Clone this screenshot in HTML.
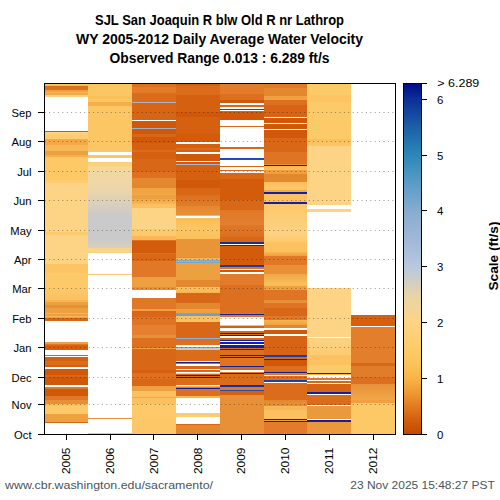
<!DOCTYPE html><html><head><meta charset="utf-8"><style>html,body{margin:0;padding:0;background:#fff;}svg{display:block;}text{font-family:"Liberation Sans",sans-serif;}</style></head><body>
<svg width="500" height="500" viewBox="0 0 500 500">
<g font-weight="bold" font-size="14" text-anchor="middle" fill="#000">
<text x="219.5" y="25" textLength="249" lengthAdjust="spacingAndGlyphs">SJL San Joaquin R blw Old R nr Lathrop</text>
<text x="219.5" y="44" textLength="287" lengthAdjust="spacingAndGlyphs">WY 2005-2012 Daily Average Water Velocity</text>
<text x="219.5" y="62.5" textLength="220" lengthAdjust="spacingAndGlyphs">Observed Range 0.013 : 6.289 ft/s</text>
</g>
<defs><linearGradient id="c0" gradientUnits="userSpaceOnUse" x1="0" y1="84.0" x2="0" y2="434.0"><stop offset="0.00000" stop-color="#fdc866"/><stop offset="0.00286" stop-color="#fdc866"/><stop offset="0.00286" stop-color="#f8b850"/><stop offset="0.00714" stop-color="#f8b850"/><stop offset="0.00714" stop-color="#d87020"/><stop offset="0.01714" stop-color="#d87020"/><stop offset="0.01714" stop-color="#f0a040"/><stop offset="0.02143" stop-color="#f0a040"/><stop offset="0.02143" stop-color="#f8b652"/><stop offset="0.02714" stop-color="#f8b652"/><stop offset="0.02714" stop-color="#f0a848"/><stop offset="0.03143" stop-color="#f0a848"/><stop offset="0.03143" stop-color="#fdd284"/><stop offset="0.03714" stop-color="#fdd284"/><stop offset="0.03714" stop-color="#ffffff"/><stop offset="0.13429" stop-color="#ffffff"/><stop offset="0.13429" stop-color="#d05808"/><stop offset="0.13714" stop-color="#d05808"/><stop offset="0.13714" stop-color="#fdd284"/><stop offset="0.14286" stop-color="#fdd284"/><stop offset="0.14286" stop-color="#fdcc70"/><stop offset="0.15857" stop-color="#fdcc70"/><stop offset="0.15857" stop-color="#f4a848"/><stop offset="0.17429" stop-color="#f4a848"/><stop offset="0.17429" stop-color="#f8b858"/><stop offset="0.19143" stop-color="#f8b858"/><stop offset="0.19143" stop-color="#eca040"/><stop offset="0.20286" stop-color="#eca040"/><stop offset="0.20286" stop-color="#f4b050"/><stop offset="0.20857" stop-color="#f4b050"/><stop offset="0.20857" stop-color="#fdc866"/><stop offset="0.27429" stop-color="#fdc866"/><stop offset="0.27429" stop-color="#fdcc70"/><stop offset="0.28286" stop-color="#fdcc70"/><stop offset="0.28286" stop-color="#fdd486"/><stop offset="0.42286" stop-color="#fdd486"/><stop offset="0.42286" stop-color="#fdca6c"/><stop offset="0.43143" stop-color="#fdca6c"/><stop offset="0.43143" stop-color="#fdd486"/><stop offset="0.51429" stop-color="#fdd486"/><stop offset="0.51429" stop-color="#fcc462"/><stop offset="0.54000" stop-color="#fcc462"/><stop offset="0.54000" stop-color="#fdca6a"/><stop offset="0.57714" stop-color="#fdca6a"/><stop offset="0.57714" stop-color="#fdca6a"/><stop offset="0.61714" stop-color="#fcc060"/><stop offset="0.61714" stop-color="#f8b652"/><stop offset="0.62143" stop-color="#f8b652"/><stop offset="0.62143" stop-color="#eca040"/><stop offset="0.63143" stop-color="#eca040"/><stop offset="0.63143" stop-color="#e89038"/><stop offset="0.64000" stop-color="#e89038"/><stop offset="0.64000" stop-color="#eca040"/><stop offset="0.65429" stop-color="#eca040"/><stop offset="0.65429" stop-color="#f8b652"/><stop offset="0.65857" stop-color="#f8b652"/><stop offset="0.65857" stop-color="#eca040"/><stop offset="0.66143" stop-color="#eca040"/><stop offset="0.66143" stop-color="#f8b858"/><stop offset="0.66714" stop-color="#f8b858"/><stop offset="0.66714" stop-color="#f0a040"/><stop offset="0.67000" stop-color="#f0a040"/><stop offset="0.67000" stop-color="#d86818"/><stop offset="0.67714" stop-color="#d86818"/><stop offset="0.67714" stop-color="#ffffff"/><stop offset="0.73714" stop-color="#ffffff"/><stop offset="0.73714" stop-color="#f0a040"/><stop offset="0.74143" stop-color="#f0a040"/><stop offset="0.74143" stop-color="#e07828"/><stop offset="0.74571" stop-color="#e07828"/><stop offset="0.74571" stop-color="#d46010"/><stop offset="0.76000" stop-color="#d46010"/><stop offset="0.76000" stop-color="#ffffff"/><stop offset="0.77429" stop-color="#ffffff"/><stop offset="0.77429" stop-color="#d86010"/><stop offset="0.77714" stop-color="#d86010"/><stop offset="0.77714" stop-color="#ffffff"/><stop offset="0.78000" stop-color="#ffffff"/><stop offset="0.78000" stop-color="#d46010"/><stop offset="0.79143" stop-color="#d46010"/><stop offset="0.79143" stop-color="#dc6c18"/><stop offset="0.80286" stop-color="#dc6c18"/><stop offset="0.80286" stop-color="#d46010"/><stop offset="0.81000" stop-color="#d46010"/><stop offset="0.81000" stop-color="#ffffff"/><stop offset="0.81429" stop-color="#ffffff"/><stop offset="0.81429" stop-color="#d05808"/><stop offset="0.83143" stop-color="#d05808"/><stop offset="0.83143" stop-color="#d86818"/><stop offset="0.83714" stop-color="#d86818"/><stop offset="0.83714" stop-color="#d05808"/><stop offset="0.86000" stop-color="#d05808"/><stop offset="0.86000" stop-color="#ffffff"/><stop offset="0.86571" stop-color="#ffffff"/><stop offset="0.86571" stop-color="#e07828"/><stop offset="0.87143" stop-color="#e07828"/><stop offset="0.87143" stop-color="#d05808"/><stop offset="0.89143" stop-color="#d05808"/><stop offset="0.89143" stop-color="#e07828"/><stop offset="0.90286" stop-color="#e07828"/><stop offset="0.90286" stop-color="#e89038"/><stop offset="0.91429" stop-color="#e89038"/><stop offset="0.91429" stop-color="#fcc060"/><stop offset="0.92000" stop-color="#fcc060"/><stop offset="0.92000" stop-color="#fdca6a"/><stop offset="0.94286" stop-color="#fdca6a"/><stop offset="0.94286" stop-color="#f0a040"/><stop offset="0.95714" stop-color="#f0a040"/><stop offset="0.95714" stop-color="#eca040"/><stop offset="0.96429" stop-color="#eca040"/><stop offset="0.96429" stop-color="#d86818"/><stop offset="0.96857" stop-color="#d86818"/><stop offset="0.96857" stop-color="#ffffff"/><stop offset="1.00000" stop-color="#ffffff"/></linearGradient><linearGradient id="c1" gradientUnits="userSpaceOnUse" x1="0" y1="84.0" x2="0" y2="434.0"><stop offset="0.00000" stop-color="#fdc664"/><stop offset="0.03429" stop-color="#fdc664"/><stop offset="0.03429" stop-color="#fac05a"/><stop offset="0.04286" stop-color="#fac05a"/><stop offset="0.04286" stop-color="#fdc664"/><stop offset="0.05143" stop-color="#fdc664"/><stop offset="0.05143" stop-color="#f4b048"/><stop offset="0.06143" stop-color="#f4b048"/><stop offset="0.06143" stop-color="#fdc664"/><stop offset="0.19429" stop-color="#fdc664"/><stop offset="0.19429" stop-color="#ffffff"/><stop offset="0.20286" stop-color="#ffffff"/><stop offset="0.20286" stop-color="#fdc664"/><stop offset="0.21143" stop-color="#fdc664"/><stop offset="0.21143" stop-color="#ffffff"/><stop offset="0.22286" stop-color="#ffffff"/><stop offset="0.22286" stop-color="#fdd07a"/><stop offset="0.23429" stop-color="#fdd07a"/><stop offset="0.23429" stop-color="#f8d890"/><stop offset="0.24571" stop-color="#f8d890"/><stop offset="0.24571" stop-color="#f2d8a0"/><stop offset="0.30286" stop-color="#ecd6aa"/><stop offset="0.30286" stop-color="#ecd6aa"/><stop offset="0.37429" stop-color="#cccac8"/><stop offset="0.37429" stop-color="#cacaca"/><stop offset="0.44571" stop-color="#cacaca"/><stop offset="0.44571" stop-color="#cccac6"/><stop offset="0.46857" stop-color="#d8d0bc"/><stop offset="0.46857" stop-color="#f8d48c"/><stop offset="0.48000" stop-color="#f8d48c"/><stop offset="0.48000" stop-color="#fdd080"/><stop offset="0.48286" stop-color="#fdd080"/><stop offset="0.48286" stop-color="#ffffff"/><stop offset="0.54143" stop-color="#ffffff"/><stop offset="0.54143" stop-color="#fdc870"/><stop offset="0.54429" stop-color="#fdc870"/><stop offset="0.54429" stop-color="#ffffff"/><stop offset="0.95429" stop-color="#ffffff"/><stop offset="0.95429" stop-color="#e89038"/><stop offset="0.95714" stop-color="#e89038"/><stop offset="0.95714" stop-color="#ffffff"/><stop offset="0.99714" stop-color="#ffffff"/><stop offset="0.99714" stop-color="#fdc866"/><stop offset="1.00000" stop-color="#fdc866"/></linearGradient><linearGradient id="c2" gradientUnits="userSpaceOnUse" x1="0" y1="84.0" x2="0" y2="434.0"><stop offset="0.00000" stop-color="#e07020"/><stop offset="0.00857" stop-color="#e07020"/><stop offset="0.00857" stop-color="#e27c2a"/><stop offset="0.02571" stop-color="#e27c2a"/><stop offset="0.02571" stop-color="#da6c1c"/><stop offset="0.05143" stop-color="#da6c1c"/><stop offset="0.05143" stop-color="#a8b4c8"/><stop offset="0.05429" stop-color="#a8b4c8"/><stop offset="0.05429" stop-color="#d66616"/><stop offset="0.10286" stop-color="#d66616"/><stop offset="0.10286" stop-color="#ffffff"/><stop offset="0.10571" stop-color="#ffffff"/><stop offset="0.10571" stop-color="#d05808"/><stop offset="0.12571" stop-color="#d05808"/><stop offset="0.12571" stop-color="#a0b0c8"/><stop offset="0.12857" stop-color="#a0b0c8"/><stop offset="0.12857" stop-color="#d05808"/><stop offset="0.14286" stop-color="#d05808"/><stop offset="0.14286" stop-color="#d86818"/><stop offset="0.15143" stop-color="#d86818"/><stop offset="0.15143" stop-color="#d05808"/><stop offset="0.16857" stop-color="#d05808"/><stop offset="0.16857" stop-color="#d46010"/><stop offset="0.18857" stop-color="#d46010"/><stop offset="0.18857" stop-color="#dc6c18"/><stop offset="0.19571" stop-color="#dc6c18"/><stop offset="0.19571" stop-color="#d46010"/><stop offset="0.21429" stop-color="#d46010"/><stop offset="0.21429" stop-color="#d86818"/><stop offset="0.25143" stop-color="#d86818"/><stop offset="0.25143" stop-color="#e07020"/><stop offset="0.26857" stop-color="#e07020"/><stop offset="0.26857" stop-color="#e48830"/><stop offset="0.28857" stop-color="#e48830"/><stop offset="0.28857" stop-color="#e08830"/><stop offset="0.29714" stop-color="#e08830"/><stop offset="0.29714" stop-color="#f0a040"/><stop offset="0.31714" stop-color="#f4a848"/><stop offset="0.31714" stop-color="#eca040"/><stop offset="0.32857" stop-color="#eca040"/><stop offset="0.32857" stop-color="#f0a848"/><stop offset="0.34286" stop-color="#f8b652"/><stop offset="0.34286" stop-color="#fcc060"/><stop offset="0.35429" stop-color="#fcc060"/><stop offset="0.35429" stop-color="#fdd486"/><stop offset="0.41429" stop-color="#fdd486"/><stop offset="0.41429" stop-color="#fdcc70"/><stop offset="0.43429" stop-color="#fcc868"/><stop offset="0.43429" stop-color="#f8b858"/><stop offset="0.44429" stop-color="#f8b858"/><stop offset="0.44429" stop-color="#e07020"/><stop offset="0.44857" stop-color="#e07020"/><stop offset="0.44857" stop-color="#d25c0c"/><stop offset="0.48286" stop-color="#d25c0c"/><stop offset="0.48286" stop-color="#dc7020"/><stop offset="0.48571" stop-color="#dc7020"/><stop offset="0.48571" stop-color="#d86818"/><stop offset="0.50571" stop-color="#d86818"/><stop offset="0.50571" stop-color="#e07828"/><stop offset="0.55143" stop-color="#e07828"/><stop offset="0.55143" stop-color="#eea040"/><stop offset="0.58000" stop-color="#eea040"/><stop offset="0.58000" stop-color="#e89038"/><stop offset="0.58800" stop-color="#e89038"/><stop offset="0.58800" stop-color="#ffffff"/><stop offset="0.61143" stop-color="#ffffff"/><stop offset="0.61143" stop-color="#e07828"/><stop offset="0.64286" stop-color="#e07828"/><stop offset="0.64286" stop-color="#f0a040"/><stop offset="0.64857" stop-color="#f0a040"/><stop offset="0.64857" stop-color="#d86818"/><stop offset="0.66571" stop-color="#d86818"/><stop offset="0.66571" stop-color="#de7424"/><stop offset="0.68857" stop-color="#de7424"/><stop offset="0.68857" stop-color="#e48030"/><stop offset="0.71714" stop-color="#e48030"/><stop offset="0.71714" stop-color="#e89038"/><stop offset="0.72571" stop-color="#e89038"/><stop offset="0.72571" stop-color="#dc7020"/><stop offset="0.75429" stop-color="#dc7020"/><stop offset="0.75429" stop-color="#eca040"/><stop offset="0.75857" stop-color="#eca040"/><stop offset="0.75857" stop-color="#d86818"/><stop offset="0.80286" stop-color="#d86818"/><stop offset="0.80286" stop-color="#d86818"/><stop offset="0.81714" stop-color="#d86818"/><stop offset="0.81714" stop-color="#d46010"/><stop offset="0.82571" stop-color="#d46010"/><stop offset="0.82571" stop-color="#e07020"/><stop offset="0.84171" stop-color="#e07020"/><stop offset="0.84171" stop-color="#d86818"/><stop offset="0.86229" stop-color="#d86818"/><stop offset="0.86229" stop-color="#eca040"/><stop offset="0.87600" stop-color="#eca040"/><stop offset="0.87600" stop-color="#fcc060"/><stop offset="0.89314" stop-color="#fcc060"/><stop offset="0.89314" stop-color="#f0a848"/><stop offset="0.89829" stop-color="#f0a848"/><stop offset="0.89829" stop-color="#fcc060"/><stop offset="0.91371" stop-color="#fcc060"/><stop offset="0.91371" stop-color="#fdca6a"/><stop offset="1.00000" stop-color="#fdc666"/></linearGradient><linearGradient id="c3" gradientUnits="userSpaceOnUse" x1="0" y1="84.0" x2="0" y2="434.0"><stop offset="0.00000" stop-color="#d46010"/><stop offset="0.00571" stop-color="#d46010"/><stop offset="0.00571" stop-color="#da6c1c"/><stop offset="0.03143" stop-color="#da6c1c"/><stop offset="0.03143" stop-color="#d46010"/><stop offset="0.08000" stop-color="#d46010"/><stop offset="0.08000" stop-color="#d05808"/><stop offset="0.09429" stop-color="#d05808"/><stop offset="0.09429" stop-color="#d46010"/><stop offset="0.14000" stop-color="#d46010"/><stop offset="0.14000" stop-color="#d25c0c"/><stop offset="0.16714" stop-color="#d25c0c"/><stop offset="0.16714" stop-color="#ffffff"/><stop offset="0.17143" stop-color="#ffffff"/><stop offset="0.17143" stop-color="#d46010"/><stop offset="0.18286" stop-color="#d46010"/><stop offset="0.18286" stop-color="#dc6c18"/><stop offset="0.18857" stop-color="#dc6c18"/><stop offset="0.18857" stop-color="#d46010"/><stop offset="0.19571" stop-color="#d46010"/><stop offset="0.19571" stop-color="#ffffff"/><stop offset="0.20000" stop-color="#ffffff"/><stop offset="0.20000" stop-color="#d05808"/><stop offset="0.22000" stop-color="#d05808"/><stop offset="0.22000" stop-color="#ffffff"/><stop offset="0.22343" stop-color="#ffffff"/><stop offset="0.22343" stop-color="#d05808"/><stop offset="0.22800" stop-color="#d05808"/><stop offset="0.22800" stop-color="#a8b8d0"/><stop offset="0.23143" stop-color="#a8b8d0"/><stop offset="0.23143" stop-color="#d46010"/><stop offset="0.27429" stop-color="#d46010"/><stop offset="0.27429" stop-color="#d05808"/><stop offset="0.29714" stop-color="#d05808"/><stop offset="0.29714" stop-color="#d86818"/><stop offset="0.31714" stop-color="#d86818"/><stop offset="0.31714" stop-color="#dc7020"/><stop offset="0.34857" stop-color="#e27c28"/><stop offset="0.34857" stop-color="#e48830"/><stop offset="0.37429" stop-color="#e89038"/><stop offset="0.37429" stop-color="#f8b652"/><stop offset="0.37714" stop-color="#f8b652"/><stop offset="0.37714" stop-color="#ffffff"/><stop offset="0.38286" stop-color="#ffffff"/><stop offset="0.38286" stop-color="#fabe58"/><stop offset="0.41714" stop-color="#fdc664"/><stop offset="0.41714" stop-color="#fdc664"/><stop offset="0.44286" stop-color="#fac05a"/><stop offset="0.44286" stop-color="#ea9438"/><stop offset="0.49429" stop-color="#ea9438"/><stop offset="0.49429" stop-color="#78a8d0"/><stop offset="0.49714" stop-color="#78a8d0"/><stop offset="0.49714" stop-color="#f8b652"/><stop offset="0.50286" stop-color="#f8b652"/><stop offset="0.50286" stop-color="#78a8d0"/><stop offset="0.50571" stop-color="#78a8d0"/><stop offset="0.50571" stop-color="#eca040"/><stop offset="0.50857" stop-color="#eca040"/><stop offset="0.50857" stop-color="#78a8d0"/><stop offset="0.51143" stop-color="#78a8d0"/><stop offset="0.51143" stop-color="#eca040"/><stop offset="0.56000" stop-color="#eca040"/><stop offset="0.56000" stop-color="#e48830"/><stop offset="0.58000" stop-color="#e48830"/><stop offset="0.58000" stop-color="#fcc060"/><stop offset="0.59714" stop-color="#f8b652"/><stop offset="0.59714" stop-color="#d86818"/><stop offset="0.62571" stop-color="#d86818"/><stop offset="0.62571" stop-color="#e48830"/><stop offset="0.64286" stop-color="#e48830"/><stop offset="0.64286" stop-color="#f0a040"/><stop offset="0.65429" stop-color="#f0a040"/><stop offset="0.65429" stop-color="#e88830"/><stop offset="0.65857" stop-color="#e88830"/><stop offset="0.65857" stop-color="#70a0c8"/><stop offset="0.66286" stop-color="#70a0c8"/><stop offset="0.66286" stop-color="#fcc060"/><stop offset="0.68000" stop-color="#fcc060"/><stop offset="0.68000" stop-color="#d86818"/><stop offset="0.72429" stop-color="#d86818"/><stop offset="0.72429" stop-color="#88b0d8"/><stop offset="0.72857" stop-color="#88b0d8"/><stop offset="0.72857" stop-color="#dc7020"/><stop offset="0.74429" stop-color="#dc7020"/><stop offset="0.74429" stop-color="#ffffff"/><stop offset="0.75143" stop-color="#ffffff"/><stop offset="0.75143" stop-color="#e88830"/><stop offset="0.75571" stop-color="#e88830"/><stop offset="0.75571" stop-color="#c8c8c8"/><stop offset="0.76000" stop-color="#c8c8c8"/><stop offset="0.76000" stop-color="#da6c1c"/><stop offset="0.79029" stop-color="#da6c1c"/><stop offset="0.79029" stop-color="#fff0d0"/><stop offset="0.79371" stop-color="#fff0d0"/><stop offset="0.79371" stop-color="#1020a0"/><stop offset="0.79714" stop-color="#1020a0"/><stop offset="0.79714" stop-color="#d86818"/><stop offset="0.80000" stop-color="#d86818"/><stop offset="0.80000" stop-color="#ffffff"/><stop offset="0.80629" stop-color="#ffffff"/><stop offset="0.80629" stop-color="#d86818"/><stop offset="0.81314" stop-color="#d86818"/><stop offset="0.81314" stop-color="#ffffff"/><stop offset="0.81771" stop-color="#ffffff"/><stop offset="0.81771" stop-color="#d86818"/><stop offset="0.82229" stop-color="#d86818"/><stop offset="0.82229" stop-color="#ffffff"/><stop offset="0.82571" stop-color="#ffffff"/><stop offset="0.82571" stop-color="#fdd080"/><stop offset="0.82914" stop-color="#fdd080"/><stop offset="0.82914" stop-color="#d86818"/><stop offset="0.83143" stop-color="#d86818"/><stop offset="0.83143" stop-color="#1020a0"/><stop offset="0.83429" stop-color="#1020a0"/><stop offset="0.83429" stop-color="#d86818"/><stop offset="0.83714" stop-color="#d86818"/><stop offset="0.83714" stop-color="#1020a0"/><stop offset="0.84057" stop-color="#1020a0"/><stop offset="0.84057" stop-color="#da6c1c"/><stop offset="0.85886" stop-color="#da6c1c"/><stop offset="0.85886" stop-color="#ffffff"/><stop offset="0.86343" stop-color="#ffffff"/><stop offset="0.86343" stop-color="#f8b050"/><stop offset="0.86571" stop-color="#f8b050"/><stop offset="0.86571" stop-color="#e07828"/><stop offset="0.86800" stop-color="#e07828"/><stop offset="0.86800" stop-color="#1020a0"/><stop offset="0.87143" stop-color="#1020a0"/><stop offset="0.87143" stop-color="#dc7020"/><stop offset="0.89143" stop-color="#dc7020"/><stop offset="0.89143" stop-color="#f8b652"/><stop offset="0.89629" stop-color="#f8b652"/><stop offset="0.89629" stop-color="#ffffff"/><stop offset="0.93943" stop-color="#ffffff"/><stop offset="0.93943" stop-color="#fdcc70"/><stop offset="0.95114" stop-color="#fdcc70"/><stop offset="0.95114" stop-color="#ffffff"/><stop offset="0.97086" stop-color="#ffffff"/><stop offset="0.97086" stop-color="#d86818"/><stop offset="0.97429" stop-color="#d86818"/><stop offset="0.97429" stop-color="#e48830"/><stop offset="1.00000" stop-color="#e48830"/></linearGradient><linearGradient id="c4" gradientUnits="userSpaceOnUse" x1="0" y1="84.0" x2="0" y2="434.0"><stop offset="0.00000" stop-color="#e27c2a"/><stop offset="0.02857" stop-color="#e27c2a"/><stop offset="0.02857" stop-color="#dc7020"/><stop offset="0.04571" stop-color="#dc7020"/><stop offset="0.04571" stop-color="#d05808"/><stop offset="0.05314" stop-color="#d05808"/><stop offset="0.05314" stop-color="#ffffff"/><stop offset="0.06057" stop-color="#ffffff"/><stop offset="0.06057" stop-color="#d86818"/><stop offset="0.06457" stop-color="#d86818"/><stop offset="0.06457" stop-color="#ffffff"/><stop offset="0.07143" stop-color="#ffffff"/><stop offset="0.07143" stop-color="#2050b0"/><stop offset="0.07486" stop-color="#2050b0"/><stop offset="0.07486" stop-color="#ffffff"/><stop offset="0.07714" stop-color="#ffffff"/><stop offset="0.07714" stop-color="#d86818"/><stop offset="0.08000" stop-color="#d86818"/><stop offset="0.08000" stop-color="#d05808"/><stop offset="0.10343" stop-color="#d05808"/><stop offset="0.10343" stop-color="#ffffff"/><stop offset="0.12000" stop-color="#ffffff"/><stop offset="0.12000" stop-color="#d86818"/><stop offset="0.12371" stop-color="#d86818"/><stop offset="0.12371" stop-color="#ffffff"/><stop offset="0.17971" stop-color="#ffffff"/><stop offset="0.17971" stop-color="#d86818"/><stop offset="0.18571" stop-color="#d86818"/><stop offset="0.18571" stop-color="#ffffff"/><stop offset="0.21143" stop-color="#ffffff"/><stop offset="0.21143" stop-color="#1850b8"/><stop offset="0.21743" stop-color="#1850b8"/><stop offset="0.21743" stop-color="#ffffff"/><stop offset="0.23429" stop-color="#ffffff"/><stop offset="0.23429" stop-color="#d86818"/><stop offset="0.23800" stop-color="#d86818"/><stop offset="0.23800" stop-color="#ffffff"/><stop offset="0.24629" stop-color="#ffffff"/><stop offset="0.24629" stop-color="#d86818"/><stop offset="0.24943" stop-color="#d86818"/><stop offset="0.24943" stop-color="#ffffff"/><stop offset="0.25571" stop-color="#ffffff"/><stop offset="0.25571" stop-color="#d86818"/><stop offset="0.27143" stop-color="#d86818"/><stop offset="0.27143" stop-color="#d25c0c"/><stop offset="0.33143" stop-color="#d25c0c"/><stop offset="0.33143" stop-color="#d86818"/><stop offset="0.36000" stop-color="#d86818"/><stop offset="0.36000" stop-color="#e07828"/><stop offset="0.40286" stop-color="#e48030"/><stop offset="0.40286" stop-color="#e07828"/><stop offset="0.43714" stop-color="#dc7020"/><stop offset="0.43714" stop-color="#d86818"/><stop offset="0.45143" stop-color="#d86818"/><stop offset="0.45143" stop-color="#1030a0"/><stop offset="0.45657" stop-color="#1030a0"/><stop offset="0.45657" stop-color="#ffffff"/><stop offset="0.46000" stop-color="#ffffff"/><stop offset="0.46000" stop-color="#1030a0"/><stop offset="0.46286" stop-color="#1030a0"/><stop offset="0.46286" stop-color="#d25c0c"/><stop offset="0.51714" stop-color="#d25c0c"/><stop offset="0.51714" stop-color="#1040a8"/><stop offset="0.52229" stop-color="#1040a8"/><stop offset="0.52229" stop-color="#e07828"/><stop offset="0.52800" stop-color="#e07828"/><stop offset="0.52800" stop-color="#ffffff"/><stop offset="0.53200" stop-color="#ffffff"/><stop offset="0.53200" stop-color="#d05808"/><stop offset="0.53714" stop-color="#d05808"/><stop offset="0.53714" stop-color="#ffffff"/><stop offset="0.54286" stop-color="#ffffff"/><stop offset="0.54286" stop-color="#e27c2c"/><stop offset="0.57429" stop-color="#e27c2c"/><stop offset="0.57429" stop-color="#dc7020"/><stop offset="0.65429" stop-color="#dc7020"/><stop offset="0.65429" stop-color="#e07828"/><stop offset="0.65714" stop-color="#e07828"/><stop offset="0.65714" stop-color="#1020a0"/><stop offset="0.66057" stop-color="#1020a0"/><stop offset="0.66057" stop-color="#e07828"/><stop offset="0.66571" stop-color="#e07828"/><stop offset="0.66571" stop-color="#ffffff"/><stop offset="0.68857" stop-color="#ffffff"/><stop offset="0.68857" stop-color="#fcc060"/><stop offset="0.69143" stop-color="#fcc060"/><stop offset="0.69143" stop-color="#d46010"/><stop offset="0.69857" stop-color="#d46010"/><stop offset="0.69857" stop-color="#ffffff"/><stop offset="0.70571" stop-color="#ffffff"/><stop offset="0.70571" stop-color="#d86818"/><stop offset="0.71086" stop-color="#d86818"/><stop offset="0.71086" stop-color="#1020a0"/><stop offset="0.71429" stop-color="#1020a0"/><stop offset="0.71429" stop-color="#d86818"/><stop offset="0.71714" stop-color="#d86818"/><stop offset="0.71714" stop-color="#1020a0"/><stop offset="0.72000" stop-color="#1020a0"/><stop offset="0.72000" stop-color="#ffffff"/><stop offset="0.72429" stop-color="#ffffff"/><stop offset="0.72429" stop-color="#d86818"/><stop offset="0.73143" stop-color="#d86818"/><stop offset="0.73143" stop-color="#1020a0"/><stop offset="0.73429" stop-color="#1020a0"/><stop offset="0.73429" stop-color="#ffffff"/><stop offset="0.73857" stop-color="#ffffff"/><stop offset="0.73857" stop-color="#1020a0"/><stop offset="0.74286" stop-color="#1020a0"/><stop offset="0.74286" stop-color="#ffffff"/><stop offset="0.74571" stop-color="#ffffff"/><stop offset="0.74571" stop-color="#1020a0"/><stop offset="0.75429" stop-color="#1020a0"/><stop offset="0.75429" stop-color="#dc7020"/><stop offset="0.75714" stop-color="#dc7020"/><stop offset="0.75714" stop-color="#1020a0"/><stop offset="0.76000" stop-color="#1020a0"/><stop offset="0.76000" stop-color="#dc7020"/><stop offset="0.77286" stop-color="#dc7020"/><stop offset="0.77286" stop-color="#1020a0"/><stop offset="0.77714" stop-color="#1020a0"/><stop offset="0.77714" stop-color="#dc7020"/><stop offset="0.78000" stop-color="#dc7020"/><stop offset="0.78000" stop-color="#1020a0"/><stop offset="0.78343" stop-color="#1020a0"/><stop offset="0.78343" stop-color="#de7424"/><stop offset="0.80429" stop-color="#de7424"/><stop offset="0.80429" stop-color="#1020a0"/><stop offset="0.80857" stop-color="#1020a0"/><stop offset="0.80857" stop-color="#d86818"/><stop offset="0.81714" stop-color="#d86818"/><stop offset="0.81714" stop-color="#ffffff"/><stop offset="0.82143" stop-color="#ffffff"/><stop offset="0.82143" stop-color="#e07828"/><stop offset="0.82429" stop-color="#e07828"/><stop offset="0.82429" stop-color="#1020a0"/><stop offset="0.82857" stop-color="#1020a0"/><stop offset="0.82857" stop-color="#da6c1c"/><stop offset="0.85886" stop-color="#da6c1c"/><stop offset="0.85886" stop-color="#1030a8"/><stop offset="0.86571" stop-color="#1030a8"/><stop offset="0.86571" stop-color="#e07828"/><stop offset="0.87314" stop-color="#e07828"/><stop offset="0.87314" stop-color="#2050b0"/><stop offset="0.87771" stop-color="#2050b0"/><stop offset="0.87771" stop-color="#d46010"/><stop offset="0.88971" stop-color="#d46010"/><stop offset="0.88971" stop-color="#e89038"/><stop offset="1.00000" stop-color="#e89038"/></linearGradient><linearGradient id="c5" gradientUnits="userSpaceOnUse" x1="0" y1="84.0" x2="0" y2="434.0"><stop offset="0.00000" stop-color="#e07828"/><stop offset="0.01143" stop-color="#e07828"/><stop offset="0.01143" stop-color="#e48830"/><stop offset="0.03429" stop-color="#e48830"/><stop offset="0.03429" stop-color="#f0a040"/><stop offset="0.04571" stop-color="#f0a040"/><stop offset="0.04571" stop-color="#dc7020"/><stop offset="0.06000" stop-color="#dc7020"/><stop offset="0.06000" stop-color="#d66414"/><stop offset="0.09286" stop-color="#d66414"/><stop offset="0.09286" stop-color="#ffffff"/><stop offset="0.09714" stop-color="#ffffff"/><stop offset="0.09714" stop-color="#d05808"/><stop offset="0.11143" stop-color="#d05808"/><stop offset="0.11143" stop-color="#ffffff"/><stop offset="0.11429" stop-color="#ffffff"/><stop offset="0.11429" stop-color="#d05808"/><stop offset="0.12857" stop-color="#d05808"/><stop offset="0.12857" stop-color="#ffffff"/><stop offset="0.13143" stop-color="#ffffff"/><stop offset="0.13143" stop-color="#d05808"/><stop offset="0.15429" stop-color="#d05808"/><stop offset="0.15429" stop-color="#d86818"/><stop offset="0.19429" stop-color="#d86818"/><stop offset="0.19429" stop-color="#de7424"/><stop offset="0.22857" stop-color="#de7424"/><stop offset="0.22857" stop-color="#e89038"/><stop offset="0.23143" stop-color="#e89038"/><stop offset="0.23143" stop-color="#1020a0"/><stop offset="0.23486" stop-color="#1020a0"/><stop offset="0.23486" stop-color="#f8b652"/><stop offset="0.24571" stop-color="#fcc060"/><stop offset="0.24571" stop-color="#f0a040"/><stop offset="0.25714" stop-color="#f0a040"/><stop offset="0.25714" stop-color="#e48830"/><stop offset="0.28000" stop-color="#e48830"/><stop offset="0.28000" stop-color="#fcc060"/><stop offset="0.30286" stop-color="#fdc868"/><stop offset="0.30286" stop-color="#f4a848"/><stop offset="0.31000" stop-color="#f4a848"/><stop offset="0.31000" stop-color="#1020a0"/><stop offset="0.31429" stop-color="#1020a0"/><stop offset="0.31429" stop-color="#fcc060"/><stop offset="0.33714" stop-color="#fcc060"/><stop offset="0.33714" stop-color="#1020a0"/><stop offset="0.34286" stop-color="#1020a0"/><stop offset="0.34286" stop-color="#fdc868"/><stop offset="0.42286" stop-color="#fdd284"/><stop offset="0.42286" stop-color="#fdd284"/><stop offset="0.45143" stop-color="#fdca6c"/><stop offset="0.45143" stop-color="#fcc262"/><stop offset="0.48000" stop-color="#fcc262"/><stop offset="0.48000" stop-color="#f8b652"/><stop offset="0.49143" stop-color="#eca040"/><stop offset="0.49143" stop-color="#e07828"/><stop offset="0.51714" stop-color="#e07828"/><stop offset="0.51714" stop-color="#e89038"/><stop offset="0.54286" stop-color="#e89038"/><stop offset="0.54286" stop-color="#f0a848"/><stop offset="0.56571" stop-color="#f8b858"/><stop offset="0.56571" stop-color="#fabe58"/><stop offset="0.57714" stop-color="#fabe58"/><stop offset="0.57714" stop-color="#eca040"/><stop offset="0.58857" stop-color="#eca040"/><stop offset="0.58857" stop-color="#de7424"/><stop offset="0.61714" stop-color="#de7424"/><stop offset="0.61714" stop-color="#e89038"/><stop offset="0.62571" stop-color="#e89038"/><stop offset="0.62571" stop-color="#de7424"/><stop offset="0.64000" stop-color="#de7424"/><stop offset="0.64000" stop-color="#d86818"/><stop offset="0.66286" stop-color="#d86818"/><stop offset="0.66286" stop-color="#e07828"/><stop offset="0.67429" stop-color="#e07828"/><stop offset="0.67429" stop-color="#f8b652"/><stop offset="0.68857" stop-color="#f0a040"/><stop offset="0.68857" stop-color="#e48830"/><stop offset="0.69857" stop-color="#e48830"/><stop offset="0.69857" stop-color="#ffffff"/><stop offset="0.70286" stop-color="#ffffff"/><stop offset="0.70286" stop-color="#d05808"/><stop offset="0.71571" stop-color="#d05808"/><stop offset="0.71571" stop-color="#ffffff"/><stop offset="0.72000" stop-color="#ffffff"/><stop offset="0.72000" stop-color="#d66414"/><stop offset="0.77571" stop-color="#d66414"/><stop offset="0.77571" stop-color="#1840b0"/><stop offset="0.78000" stop-color="#1840b0"/><stop offset="0.78000" stop-color="#d86818"/><stop offset="0.78429" stop-color="#d86818"/><stop offset="0.78429" stop-color="#1020a0"/><stop offset="0.78857" stop-color="#1020a0"/><stop offset="0.78857" stop-color="#d05808"/><stop offset="0.80571" stop-color="#d05808"/><stop offset="0.80571" stop-color="#dc7020"/><stop offset="0.82000" stop-color="#dc7020"/><stop offset="0.82000" stop-color="#d86818"/><stop offset="0.82286" stop-color="#d86818"/><stop offset="0.82286" stop-color="#1020a0"/><stop offset="0.82571" stop-color="#1020a0"/><stop offset="0.82571" stop-color="#e07828"/><stop offset="0.83000" stop-color="#e07828"/><stop offset="0.83000" stop-color="#ffffff"/><stop offset="0.83429" stop-color="#ffffff"/><stop offset="0.83429" stop-color="#dc7020"/><stop offset="0.84429" stop-color="#dc7020"/><stop offset="0.84429" stop-color="#1840b0"/><stop offset="0.85057" stop-color="#1840b0"/><stop offset="0.85057" stop-color="#ffffff"/><stop offset="0.85371" stop-color="#ffffff"/><stop offset="0.85371" stop-color="#da6c1c"/><stop offset="0.90286" stop-color="#da6c1c"/><stop offset="0.90286" stop-color="#e48830"/><stop offset="0.92086" stop-color="#e89038"/><stop offset="0.92086" stop-color="#f8b858"/><stop offset="0.93057" stop-color="#f8b858"/><stop offset="0.93057" stop-color="#fcc060"/><stop offset="0.95600" stop-color="#fcc060"/><stop offset="0.95600" stop-color="#1020a0"/><stop offset="0.95943" stop-color="#1020a0"/><stop offset="0.95943" stop-color="#f0a040"/><stop offset="0.96257" stop-color="#f0a040"/><stop offset="0.96257" stop-color="#1020a0"/><stop offset="0.96571" stop-color="#1020a0"/><stop offset="0.96571" stop-color="#e27c2c"/><stop offset="1.00000" stop-color="#e27c2c"/></linearGradient><linearGradient id="c6" gradientUnits="userSpaceOnUse" x1="0" y1="84.0" x2="0" y2="434.0"><stop offset="0.00000" stop-color="#fdca6a"/><stop offset="0.03143" stop-color="#fdca6a"/><stop offset="0.03143" stop-color="#fdc464"/><stop offset="0.05143" stop-color="#fdc464"/><stop offset="0.05143" stop-color="#fdca6a"/><stop offset="0.15714" stop-color="#fdca6a"/><stop offset="0.15714" stop-color="#fac05a"/><stop offset="0.17714" stop-color="#fdc664"/><stop offset="0.17714" stop-color="#fdd486"/><stop offset="0.34457" stop-color="#fdd486"/><stop offset="0.34457" stop-color="#ffffff"/><stop offset="0.35714" stop-color="#ffffff"/><stop offset="0.35714" stop-color="#fdd486"/><stop offset="0.36486" stop-color="#fdd486"/><stop offset="0.36486" stop-color="#ffffff"/><stop offset="0.58286" stop-color="#ffffff"/><stop offset="0.58286" stop-color="#fdd486"/><stop offset="0.72171" stop-color="#fdd486"/><stop offset="0.72171" stop-color="#ffffff"/><stop offset="0.72629" stop-color="#ffffff"/><stop offset="0.72629" stop-color="#fdd284"/><stop offset="0.77429" stop-color="#fdcc70"/><stop offset="0.77429" stop-color="#fcc262"/><stop offset="0.80286" stop-color="#fcc262"/><stop offset="0.80286" stop-color="#fdca6a"/><stop offset="0.82429" stop-color="#fdca6a"/><stop offset="0.82429" stop-color="#1020a0"/><stop offset="0.82914" stop-color="#1020a0"/><stop offset="0.82914" stop-color="#f8b652"/><stop offset="0.83143" stop-color="#f8b652"/><stop offset="0.83143" stop-color="#ffffff"/><stop offset="0.84000" stop-color="#ffffff"/><stop offset="0.84000" stop-color="#e07828"/><stop offset="0.84429" stop-color="#e07828"/><stop offset="0.84429" stop-color="#ffffff"/><stop offset="0.84857" stop-color="#ffffff"/><stop offset="0.84857" stop-color="#d86818"/><stop offset="0.85286" stop-color="#d86818"/><stop offset="0.85286" stop-color="#ffffff"/><stop offset="0.85714" stop-color="#ffffff"/><stop offset="0.85714" stop-color="#d66414"/><stop offset="0.87943" stop-color="#d66414"/><stop offset="0.87943" stop-color="#1020a0"/><stop offset="0.88543" stop-color="#1020a0"/><stop offset="0.88543" stop-color="#ffffff"/><stop offset="0.88857" stop-color="#ffffff"/><stop offset="0.88857" stop-color="#da6c1c"/><stop offset="0.91657" stop-color="#da6c1c"/><stop offset="0.91657" stop-color="#ffffff"/><stop offset="0.92000" stop-color="#ffffff"/><stop offset="0.92000" stop-color="#ea9a3c"/><stop offset="0.95829" stop-color="#ea9a3c"/><stop offset="0.95829" stop-color="#ffffff"/><stop offset="0.96057" stop-color="#ffffff"/><stop offset="0.96057" stop-color="#1020a0"/><stop offset="0.96457" stop-color="#1020a0"/><stop offset="0.96457" stop-color="#ea983a"/><stop offset="1.00000" stop-color="#ea983a"/></linearGradient><linearGradient id="c7" gradientUnits="userSpaceOnUse" x1="0" y1="84.0" x2="0" y2="434.0"><stop offset="0.00000" stop-color="#ffffff"/><stop offset="0.66000" stop-color="#ffffff"/><stop offset="0.66000" stop-color="#d46010"/><stop offset="0.69000" stop-color="#d46010"/><stop offset="0.69000" stop-color="#ffffff"/><stop offset="0.69429" stop-color="#ffffff"/><stop offset="0.69429" stop-color="#e27e2c"/><stop offset="0.79714" stop-color="#e27e2c"/><stop offset="0.79714" stop-color="#d86818"/><stop offset="0.80571" stop-color="#d86818"/><stop offset="0.80571" stop-color="#e07c2a"/><stop offset="0.83714" stop-color="#e07c2a"/><stop offset="0.83714" stop-color="#dc7020"/><stop offset="0.85714" stop-color="#dc7020"/><stop offset="0.85714" stop-color="#e89038"/><stop offset="0.90286" stop-color="#f0a848"/><stop offset="0.90286" stop-color="#f0a040"/><stop offset="0.91143" stop-color="#f0a040"/><stop offset="0.91143" stop-color="#fdc866"/><stop offset="1.00000" stop-color="#fdc866"/></linearGradient></defs>
<rect x="45" y="84.0" width="43" height="350.0" fill="url(#c0)" shape-rendering="crispEdges"/>
<rect x="88" y="84.0" width="44" height="350.0" fill="url(#c1)" shape-rendering="crispEdges"/>
<rect x="132" y="84.0" width="44" height="350.0" fill="url(#c2)" shape-rendering="crispEdges"/>
<rect x="176" y="84.0" width="44" height="350.0" fill="url(#c3)" shape-rendering="crispEdges"/>
<rect x="220" y="84.0" width="44" height="350.0" fill="url(#c4)" shape-rendering="crispEdges"/>
<rect x="264" y="84.0" width="43" height="350.0" fill="url(#c5)" shape-rendering="crispEdges"/>
<rect x="307" y="84.0" width="44" height="350.0" fill="url(#c6)" shape-rendering="crispEdges"/>
<rect x="351" y="84.0" width="44" height="350.0" fill="url(#c7)" shape-rendering="crispEdges"/>
<g stroke="#000" stroke-opacity="0.4" stroke-width="1" stroke-dasharray="1,3.4">
<line x1="44.7" y1="404.5" x2="395" y2="404.5"/>
<line x1="44.7" y1="377.5" x2="395" y2="377.5"/>
<line x1="44.7" y1="347.5" x2="395" y2="347.5"/>
<line x1="44.7" y1="318.5" x2="395" y2="318.5"/>
<line x1="44.7" y1="288.5" x2="395" y2="288.5"/>
<line x1="44.7" y1="259.5" x2="395" y2="259.5"/>
<line x1="44.7" y1="230.5" x2="395" y2="230.5"/>
<line x1="44.7" y1="200.5" x2="395" y2="200.5"/>
<line x1="44.7" y1="171.5" x2="395" y2="171.5"/>
<line x1="44.7" y1="141.5" x2="395" y2="141.5"/>
<line x1="44.7" y1="112.5" x2="395" y2="112.5"/>
</g>
<rect x="44.5" y="83.5" width="351" height="351" fill="none" stroke="#000" stroke-width="1"/>
<g stroke="#000" stroke-width="1">
<line x1="38" y1="434.5" x2="44" y2="434.5"/>
<line x1="38" y1="404.5" x2="44" y2="404.5"/>
<line x1="38" y1="377.5" x2="44" y2="377.5"/>
<line x1="38" y1="347.5" x2="44" y2="347.5"/>
<line x1="38" y1="318.5" x2="44" y2="318.5"/>
<line x1="38" y1="288.5" x2="44" y2="288.5"/>
<line x1="38" y1="259.5" x2="44" y2="259.5"/>
<line x1="38" y1="230.5" x2="44" y2="230.5"/>
<line x1="38" y1="200.5" x2="44" y2="200.5"/>
<line x1="38" y1="171.5" x2="44" y2="171.5"/>
<line x1="38" y1="141.5" x2="44" y2="141.5"/>
<line x1="38" y1="112.5" x2="44" y2="112.5"/>
<line x1="66.5" y1="435" x2="66.5" y2="440"/>
<line x1="110.5" y1="435" x2="110.5" y2="440"/>
<line x1="153.5" y1="435" x2="153.5" y2="440"/>
<line x1="197.5" y1="435" x2="197.5" y2="440"/>
<line x1="241.5" y1="435" x2="241.5" y2="440"/>
<line x1="285.5" y1="435" x2="285.5" y2="440"/>
<line x1="329.5" y1="435" x2="329.5" y2="440"/>
<line x1="373.5" y1="435" x2="373.5" y2="440"/>
</g>
<g font-size="11.2" text-anchor="end" fill="#000">
<text x="31.5" y="439.0">Oct</text>
<text x="31.5" y="409.0">Nov</text>
<text x="31.5" y="382.0">Dec</text>
<text x="31.5" y="352.0">Jan</text>
<text x="31.5" y="323.0">Feb</text>
<text x="31.5" y="293.0">Mar</text>
<text x="31.5" y="264.0">Apr</text>
<text x="31.5" y="235.0">May</text>
<text x="31.5" y="205.0">Jun</text>
<text x="31.5" y="176.0">Jul</text>
<text x="31.5" y="146.0">Aug</text>
<text x="31.5" y="117.0">Sep</text>
</g>
<g font-size="11" text-anchor="middle" fill="#000">
<text transform="translate(69.9,460.8) rotate(-90)" textLength="26.4" lengthAdjust="spacingAndGlyphs">2005</text>
<text transform="translate(113.8,460.8) rotate(-90)" textLength="26.4" lengthAdjust="spacingAndGlyphs">2006</text>
<text transform="translate(157.7,460.8) rotate(-90)" textLength="26.4" lengthAdjust="spacingAndGlyphs">2007</text>
<text transform="translate(201.6,460.8) rotate(-90)" textLength="26.4" lengthAdjust="spacingAndGlyphs">2008</text>
<text transform="translate(245.4,460.8) rotate(-90)" textLength="26.4" lengthAdjust="spacingAndGlyphs">2009</text>
<text transform="translate(289.3,460.8) rotate(-90)" textLength="26.4" lengthAdjust="spacingAndGlyphs">2010</text>
<text transform="translate(333.2,460.8) rotate(-90)" textLength="26.4" lengthAdjust="spacingAndGlyphs">2011</text>
<text transform="translate(377.1,460.8) rotate(-90)" textLength="26.4" lengthAdjust="spacingAndGlyphs">2012</text>
</g>
<defs><linearGradient id="cb" x1="0" y1="1" x2="0" y2="0">
<stop offset="0.0000" stop-color="#c44800"/>
<stop offset="0.0398" stop-color="#d25e0e"/>
<stop offset="0.0795" stop-color="#e27a20"/>
<stop offset="0.1193" stop-color="#ee9a32"/>
<stop offset="0.1590" stop-color="#f8b446"/>
<stop offset="0.1988" stop-color="#fcc258"/>
<stop offset="0.2385" stop-color="#fdca66"/>
<stop offset="0.3180" stop-color="#fdd484"/>
<stop offset="0.3975" stop-color="#e8d4a8"/>
<stop offset="0.4770" stop-color="#b8c8e0"/>
<stop offset="0.5565" stop-color="#a0b8d8"/>
<stop offset="0.6360" stop-color="#88acd0"/>
<stop offset="0.7155" stop-color="#5a9cc8"/>
<stop offset="0.7950" stop-color="#2c88b8"/>
<stop offset="0.8745" stop-color="#1c60a8"/>
<stop offset="0.9540" stop-color="#0c3098"/>
<stop offset="1.0000" stop-color="#000c88"/>
</linearGradient></defs>
<rect x="403.5" y="83.5" width="18" height="351" fill="url(#cb)" stroke="#000" stroke-width="1"/>
<g stroke="#000" stroke-width="1">
<line x1="421" y1="434.5" x2="427" y2="434.5"/>
<line x1="421" y1="378.5" x2="427" y2="378.5"/>
<line x1="421" y1="322.5" x2="427" y2="322.5"/>
<line x1="421" y1="266.5" x2="427" y2="266.5"/>
<line x1="421" y1="210.5" x2="427" y2="210.5"/>
<line x1="421" y1="155.5" x2="427" y2="155.5"/>
<line x1="421" y1="99.5" x2="427" y2="99.5"/>
<line x1="421" y1="83.5" x2="427" y2="83.5"/>
</g>
<g font-size="11.4" fill="#000">
<text x="437" y="438.5">0</text>
<text x="437" y="382.5">1</text>
<text x="437" y="326.5">2</text>
<text x="437" y="270.5">3</text>
<text x="437" y="214.5">4</text>
<text x="437" y="159.5">5</text>
<text x="437" y="103.5">6</text>
<text x="437.3" y="87" textLength="42" lengthAdjust="spacingAndGlyphs">&gt; 6.289</text>
</g>
<text transform="translate(498,256) rotate(-90)" font-size="12" font-weight="bold" text-anchor="middle" textLength="69" lengthAdjust="spacingAndGlyphs">Scale (ft/s)</text>
<text x="5" y="489" font-size="11" fill="#4a555c" textLength="208" lengthAdjust="spacingAndGlyphs">www.cbr.washington.edu/sacramento/</text>
<text x="350.3" y="489" font-size="11" fill="#4a555c" textLength="144.5" lengthAdjust="spacingAndGlyphs">23 Nov 2025 15:48:27 PST</text>
</svg></body></html>
